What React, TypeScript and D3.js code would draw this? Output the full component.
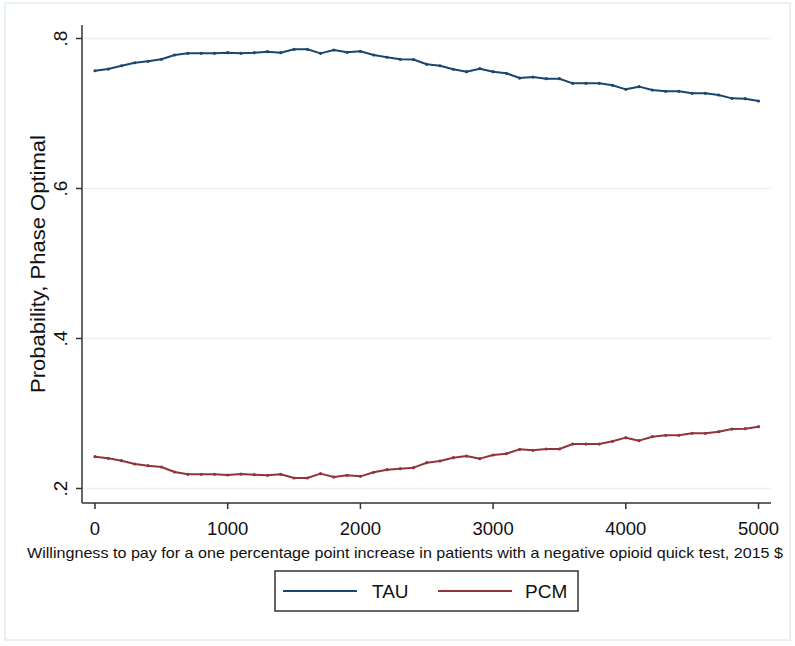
import React from "react";
import * as d3 from "d3";

const wtp: number[] = d3.range(0, 5001, 100);
const tau: number[] = [
  0.757, 0.7593, 0.7637, 0.7677, 0.7696, 0.7723, 0.778, 0.7802, 0.7802, 0.7802,
  0.7811, 0.7802, 0.7811, 0.7824, 0.7811, 0.7856, 0.7856, 0.7802, 0.7847, 0.7816,
  0.7829, 0.778, 0.775, 0.7723, 0.772, 0.7656, 0.7637, 0.759, 0.7558, 0.7598,
  0.7558, 0.7536, 0.7473, 0.7487, 0.7464, 0.7464, 0.7402, 0.7402, 0.7402, 0.7376,
  0.7322, 0.7358, 0.7313, 0.7296, 0.7296, 0.7269, 0.7269, 0.7247, 0.7202, 0.7198,
  0.7167,
];
const pcm: number[] = [
  0.2424, 0.2402, 0.2371, 0.2327, 0.2304, 0.2287, 0.222, 0.2189, 0.2189, 0.2189,
  0.218, 0.2193, 0.2184, 0.2176, 0.2189, 0.214, 0.214, 0.2198, 0.2153, 0.2176,
  0.2162, 0.2216, 0.2251, 0.2264, 0.2278, 0.2344, 0.2367, 0.2411, 0.2433, 0.2398,
  0.2447, 0.2464, 0.2522, 0.2509, 0.2527, 0.2527, 0.2593, 0.2593, 0.2593, 0.2629,
  0.2678, 0.2638, 0.2691, 0.2709, 0.2709, 0.2736, 0.2736, 0.2758, 0.2793, 0.2798,
  0.2824,
];
const xTicks: number[] = [0, 1000, 2000, 3000, 4000, 5000];
const yTicks: number[] = [0.2, 0.4, 0.6, 0.8];
const yTickLabels: string[] = [".2", ".4", ".6", ".8"];
const seriesNames: string[] = ["TAU", "PCM"];
const seriesColors: string[] = ["#1a476f", "#90353b"];
const xTitle =
  "Willingness to pay for a one percentage point increase in patients with a negative opioid quick test, 2015 $";
const yTitle = "Probability, Phase Optimal";

export default function App() {
  const W = 795;
  const H = 646;
  const x = d3.scaleLinear().domain([0, 5000]).range([95, 758.5]);
  const y = d3.scaleLinear().domain([0.2, 0.8]).range([488.5, 38.5]);
  const axisLeft = 82;
  const axisBottom = 503;
  const axisTop = 25;
  const axisRight = 771;
  const font = "'Liberation Sans', Arial, sans-serif";
  const series = [tau, pcm];
  const line = d3
    .line<number>()
    .x((_, i) => x(wtp[i]))
    .y((d) => y(d));

  return (
    <svg
      width={W}
      height={H}
      style={{ position: "absolute", left: 0, top: 0, background: "#fff" }}
      fontFamily={font}
    >
      <rect x={5} y={3} width={785} height={637} fill="#fff" stroke="#e8f1f1" strokeWidth={2} />
      {yTicks.map((t) => (
        <line key={"g" + t} x1={axisLeft + 1} x2={axisRight} y1={y(t)} y2={y(t)} stroke="#eaf2f3" strokeWidth={1.5} />
      ))}
      <line x1={axisLeft} x2={axisLeft} y1={axisTop} y2={axisBottom} stroke="#333" strokeWidth={1.5} />
      <line x1={axisLeft} x2={axisRight} y1={axisBottom} y2={axisBottom} stroke="#333" strokeWidth={1.5} />
      {yTicks.map((t, i) => (
        <g key={"yt" + t}>
          <line x1={axisLeft - 6} x2={axisLeft} y1={y(t)} y2={y(t)} stroke="#333" strokeWidth={1.5} />
          <text
            transform={`translate(${67},${y(t)}) rotate(-90)`}
            textAnchor="middle"
            fontSize={19}
            fill="#111"
          >
            {yTickLabels[i]}
          </text>
        </g>
      ))}
      {xTicks.map((t) => (
        <g key={"xt" + t}>
          <line x1={x(t)} x2={x(t)} y1={axisBottom} y2={axisBottom + 6} stroke="#333" strokeWidth={1.5} />
          <text x={x(t)} y={535} textAnchor="middle" fontSize={18.5} fill="#111">
            {t}
          </text>
        </g>
      ))}
      <text x={405} y={558} textAnchor="middle" fontSize={14.5} fill="#111" textLength={756} lengthAdjust="spacingAndGlyphs">
        {xTitle}
      </text>
      <text
        transform={`translate(${45},${264}) rotate(-90)`}
        textAnchor="middle"
        fontSize={19.5}
        fill="#111"
        textLength={258}
        lengthAdjust="spacingAndGlyphs"
      >
        {yTitle}
      </text>
      {series.map((s, k) => (
        <g key={"s" + k}>
          <path d={line(s) || ""} fill="none" stroke={seriesColors[k]} strokeWidth={2} strokeLinejoin="round" />
          {s.map((v, i) => (
            <circle key={i} cx={x(wtp[i])} cy={y(v)} r={1.6} fill={seriesColors[k]} />
          ))}
        </g>
      ))}
      <rect x={275} y={571} width={303} height={40} fill="#fff" stroke="#333" strokeWidth={1.5} />
      {seriesNames.map((n, k) => (
        <g key={n}>
          <line x1={283 + k * 155} x2={357 + k * 155} y1={591} y2={591} stroke={seriesColors[k]} strokeWidth={2} />
          <text x={372 + k * 153} y={598} fontSize={19} fill="#111">
            {n}
          </text>
        </g>
      ))}
    </svg>
  );
}
